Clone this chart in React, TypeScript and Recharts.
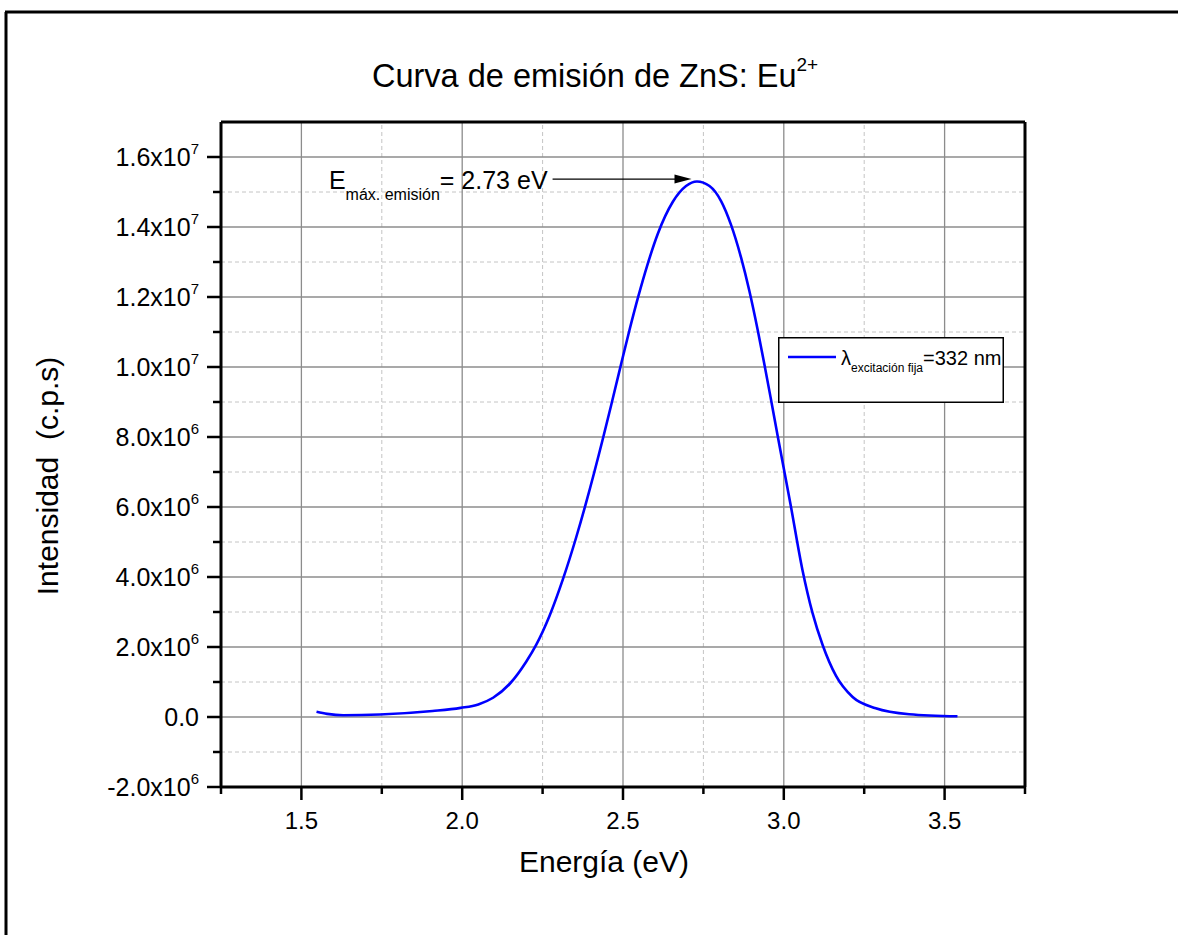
import { LineChart, Line, XAxis, YAxis, ReferenceLine, Legend } from 'recharts';

// Emission curve (energy in eV, intensity in 10^6 c.p.s)
const energy = [
  1.547, 1.58, 1.63, 1.744, 1.908, 1.995, 2.05, 2.096, 2.148, 2.199, 2.23, 2.272, 2.313, 2.355,
  2.384, 2.438, 2.463, 2.489, 2.52, 2.548, 2.575, 2.608, 2.655, 2.696, 2.73, 2.769, 2.805, 2.836,
  2.867, 2.893, 2.919, 2.939, 2.96, 2.981, 3.022, 3.058, 3.089, 3.121, 3.162, 3.214, 3.286, 3.39,
  3.54,
];
const intensity = [
  0.15, 0.09, 0.05, 0.07, 0.17, 0.26, 0.36, 0.55, 0.95, 1.58, 2.06, 2.9, 3.93, 5.15,
  6.08, 7.97, 8.9, 9.89, 11.05, 12.03, 12.89, 13.8, 14.72, 15.17, 15.3, 15.17, 14.74, 14.06,
  13.13, 12.17, 11.05, 10.11, 9.08, 8.03, 6.02, 4.2, 2.98, 2.05, 1.18, 0.57, 0.25, 0.08,
  0.02,
];

const xMajor = [1.5, 2.0, 2.5, 3.0, 3.5];
const xMinor = [1.25, 1.75, 2.25, 2.75, 3.25, 3.75];
const yMajor = [-2e6, 0, 2e6, 4e6, 6e6, 8e6, 1e7, 1.2e7, 1.4e7, 1.6e7];
const yMinor = [-1e6, 1e6, 3e6, 5e6, 7e6, 9e6, 1.1e7, 1.3e7, 1.5e7];

const peakEnergy = 2.73;
const arrowFrom = { x: 2.281, y: 1.537e7 };
const arrowTo = { x: 2.713, y: 1.537e7 };

const data = energy.map((e, i) => ({ e, v: intensity[i] * 1e6 }));

const FONT = '"Liberation Sans", Arial, sans-serif';
const W = 1178;
const H = 935;

function sciParts(v: number) {
  if (v === 0) return { base: '0.0', exp: '' };
  const exp = Math.floor(Math.log10(Math.abs(v)));
  const mant = v / Math.pow(10, exp);
  return { base: `${mant.toFixed(1)}x10`, exp: String(exp) };
}

function YTick(props: any) {
  const { x, y, payload } = props;
  const major = yMajor.includes(payload.value);
  const len = major ? 14 : 8;
  const { base, exp } = sciParts(payload.value);
  return (
    <g>
      <line x1={x} x2={x - len} y1={y} y2={y} stroke="#000" strokeWidth={2.5} />
      {major && (
        <text x={x - 22} y={y + 9} textAnchor="end" fontSize={25} fontFamily={FONT} fill="#000">
          <tspan>{base}</tspan>
          {exp && (
            <tspan dy={-12} fontSize={15}>
              {exp}
            </tspan>
          )}
        </text>
      )}
    </g>
  );
}

function XTick(props: any) {
  const { x, y, payload } = props;
  const major = xMajor.includes(payload.value);
  const len = major ? 13 : 7;
  return (
    <g>
      <line x1={x} x2={x} y1={y} y2={y + len} stroke="#000" strokeWidth={2.5} />
      {major && (
        <text x={x} y={y + 42} textAnchor="middle" fontSize={24} fontFamily={FONT} fill="#000">
          {payload.value.toFixed(1)}
        </text>
      )}
    </g>
  );
}

function PeakArrow(props: any) {
  const { x1, y1, x2, y2 } = props;
  return (
    <g>
      <line x1={x1} y1={y1} x2={x2 - 14} y2={y2} stroke="#000" strokeWidth={1.3} />
      <polygon points={`${x2},${y2} ${x2 - 17},${y2 - 4.5} ${x2 - 17},${y2 + 4.5}`} fill="#000" />
      <text x={x1 - 5} y={y1 + 10} textAnchor="end" fontFamily={FONT} fill="#000" fontSize={25}>
        <tspan>E</tspan>
        <tspan fontSize={16} dy={11}>máx. emisión</tspan>
        <tspan dy={-11}>= {peakEnergy.toFixed(2)} eV</tspan>
      </text>
    </g>
  );
}

function LegendBox() {
  return (
    <svg width={226} height={66} style={{ display: 'block' }}>
      <rect x={0.75} y={0.75} width={224.5} height={64.5} fill="#fff" stroke="#000" strokeWidth={1.5} />
      <line x1={10} x2={58} y1={20} y2={20} stroke="#0000ff" strokeWidth={2.5} />
      <text x={63} y={28} fontFamily={FONT} fontSize={20} fill="#000">
        <tspan>λ</tspan>
        <tspan fontSize={12} dy={7}>excitación fija</tspan>
        <tspan dy={-7}>=332 nm</tspan>
      </text>
    </svg>
  );
}

export default function App() {
  return (
    <div style={{ position: 'absolute', left: 0, top: 0, width: W, height: H, background: '#fff' }}>
      <LineChart
        width={W}
        height={H}
        data={data}
        margin={{ top: 122, right: 153, left: 161, bottom: 108 }}
      >
        {xMinor.map((v) => (
          <ReferenceLine key={`xm${v}`} x={v} stroke="#c4c4c4" strokeDasharray="4 3" strokeWidth={1} />
        ))}
        {yMinor.map((v) => (
          <ReferenceLine key={`ym${v}`} y={v} stroke="#c4c4c4" strokeDasharray="4 3" strokeWidth={1} />
        ))}
        {xMajor.map((v) => (
          <ReferenceLine key={`xM${v}`} x={v} stroke="#8c8c8c" strokeWidth={1.3} />
        ))}
        {yMajor.map((v) => (
          <ReferenceLine key={`yM${v}`} y={v} stroke="#8c8c8c" strokeWidth={1.3} />
        ))}
        <XAxis
          dataKey="e"
          type="number"
          domain={[1.25, 3.75]}
          ticks={[...xMinor, ...xMajor].sort((a, b) => a - b)}
          tick={(p: any) => <XTick {...p} />}
          tickLine={false}
          tickSize={0}
          tickMargin={0}
          height={40}
          axisLine={{ stroke: '#000', strokeWidth: 3 }}
          allowDataOverflow
        />
        <YAxis
          type="number"
          domain={[-2e6, 1.7e7]}
          ticks={[...yMinor, ...yMajor].sort((a, b) => a - b)}
          tick={(p: any) => <YTick {...p} />}
          tickLine={false}
          tickSize={0}
          tickMargin={0}
          width={60}
          axisLine={{ stroke: '#000', strokeWidth: 3 }}
          allowDataOverflow
        />
        <ReferenceLine y={1.7e7} stroke="#000" strokeWidth={3} />
        <ReferenceLine x={3.75} stroke="#000" strokeWidth={3} />
        <Line
          type="monotone"
          dataKey="v"
          stroke="#0000ff"
          strokeWidth={2.6}
          dot={false}
          isAnimationActive={false}
        />
        <ReferenceLine segment={[arrowFrom, arrowTo]} shape={(p: any) => <PeakArrow {...p} />} />
        <Legend
          layout="vertical"
          align="center"
          verticalAlign="middle"
          content={() => <LegendBox />}
          wrapperStyle={{ left: 778, top: 337, width: 226, height: 66 }}
        />
      </LineChart>
      <svg
        width={W}
        height={H}
        style={{ position: 'absolute', left: 0, top: 0, pointerEvents: 'none' }}
      >
        <line x1={5} x2={W} y1={12} y2={12} stroke="#000" strokeWidth={3} />
        <line x1={6} x2={6} y1={12} y2={H} stroke="#000" strokeWidth={3} />
        <text x={372} y={87} fontFamily={FONT} fontSize={32.5} fill="#000">
          <tspan>Curva de emisión de ZnS: Eu</tspan>
          <tspan fontSize={19} dy={-16}>2+</tspan>
        </text>
        <text x={604} y={872} textAnchor="middle" fontFamily={FONT} fontSize={30} fill="#000">
          Energía (eV)
        </text>
        <text
          x={0}
          y={0}
          transform="translate(58 476) rotate(-90)"
          textAnchor="middle"
          fontFamily={FONT}
          fontSize={30}
          fill="#000"
          style={{ whiteSpace: 'pre' }}
        >
          Intensidad  (c.p.s)
        </text>
      </svg>
    </div>
  );
}
